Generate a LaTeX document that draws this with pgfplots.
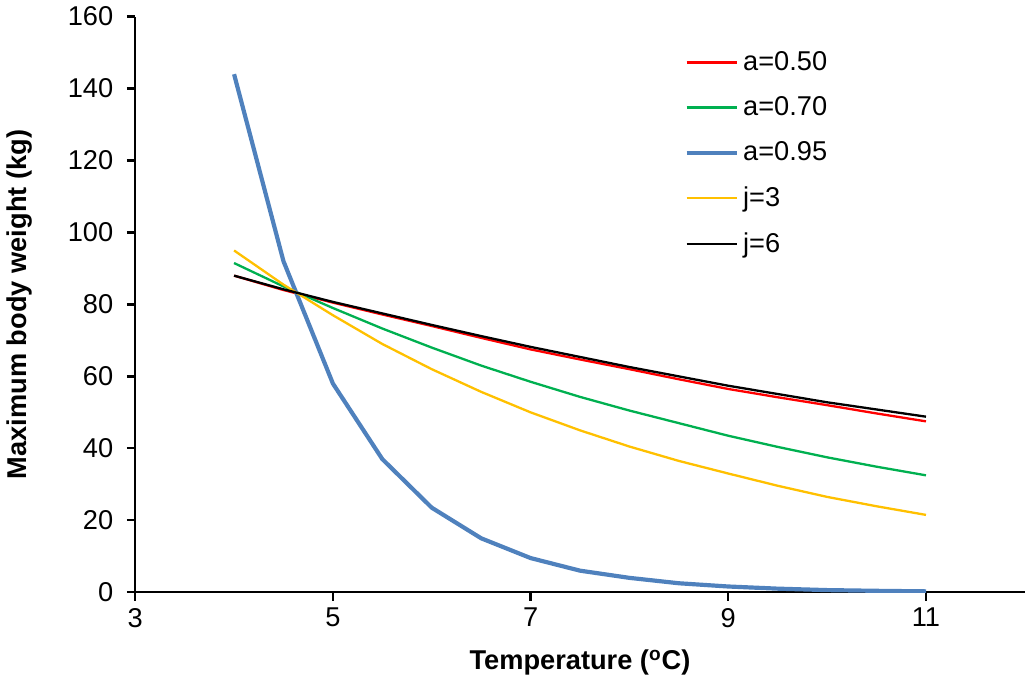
\documentclass[border=0pt]{standalone}
\usepackage{pgfplots}
\pgfplotsset{compat=1.18}
\usepackage{fontspec}
\setmainfont{Liberation Sans}
\definecolor{cA}{RGB}{255,0,0}
\definecolor{cB}{RGB}{0,176,80}
\definecolor{cC}{RGB}{79,129,189}
\definecolor{cD}{RGB}{255,192,0}
\begin{document}
\begin{tikzpicture}
\begin{axis}[
 scale only axis, width=425pt, height=275pt,
 xmin=3, xmax=12, ymin=0, ymax=160,
 axis lines=left, axis line style={-, line width=1.1pt},
 xtick={3,5,7,9,11}, ytick={0,20,...,160},
 tick align=outside, major tick length=4pt,
 tick style={line width=1.1pt, black},
 ticklabel style={font=\fontsize{13}{15}\selectfont},
 yticklabel style={xshift=-3pt},
 /pgf/number format/assume math mode=true,
 xlabel={\bfseries Temperature (\textsuperscript{o}C)},
 ylabel={\bfseries Maximum body weight (kg)},
 label style={font=\fontsize{13}{15}\selectfont},
 xlabel style={yshift=-4pt},
 ylabel style={yshift=10pt},
 legend style={draw=none, fill=none, at={(0.61,0.955)}, anchor=north west, font=\fontsize{13}{15}\selectfont, row sep=7pt},
 legend image code/.code={\draw[#1] (0pt,0pt) -- (24pt,0pt);},
 legend cell align=left,
]
\addplot[cA, line width=1.1pt] coordinates {(4,88)(4.5,84)(5,80.5)(5.5,77.2)(6,74)(6.5,70.7)(7,67.5)(7.5,64.7)(8,62)(8.5,59.2)(9,56.5)(9.5,54.2)(10,52)(10.5,49.7)(11,47.5)};
\addlegendentry{a=0.50}
\addplot[cB, line width=1.1pt] coordinates {(4,91.5)(4.5,85)(5,79)(5.5,73.3)(6,68)(6.5,63)(7,58.5)(7.5,54.3)(8,50.5)(8.5,47)(9,43.5)(9.5,40.4)(10,37.5)(10.5,34.9)(11,32.5)};
\addlegendentry{a=0.70}
\addplot[cC, line width=2pt] coordinates {(4,144)(4.5,92)(5,58)(5.5,37)(6,23.5)(6.5,15)(7,9.5)(7.5,6)(8,4)(8.5,2.5)(9,1.6)(9.5,1)(10,0.6)(10.5,0.4)(11,0.25)};
\addlegendentry{a=0.95}
\addplot[cD, line width=1.1pt] coordinates {(4,95)(4.5,85.5)(5,77)(5.5,69)(6,62)(6.5,55.7)(7,50)(7.5,45)(8,40.5)(8.5,36.5)(9,33)(9.5,29.6)(10,26.5)(10.5,23.9)(11,21.5)};
\addlegendentry{j=3}
\addplot[black, line width=1.1pt] coordinates {(4,88)(4.5,84.2)(5,80.7)(5.5,77.5)(6,74.3)(6.5,71.2)(7,68.2)(7.5,65.4)(8,62.6)(8.5,60)(9,57.4)(9.5,55.1)(10,52.8)(10.5,50.8)(11,48.8)};
\addlegendentry{j=6}
\end{axis}
\end{tikzpicture}
\end{document}
